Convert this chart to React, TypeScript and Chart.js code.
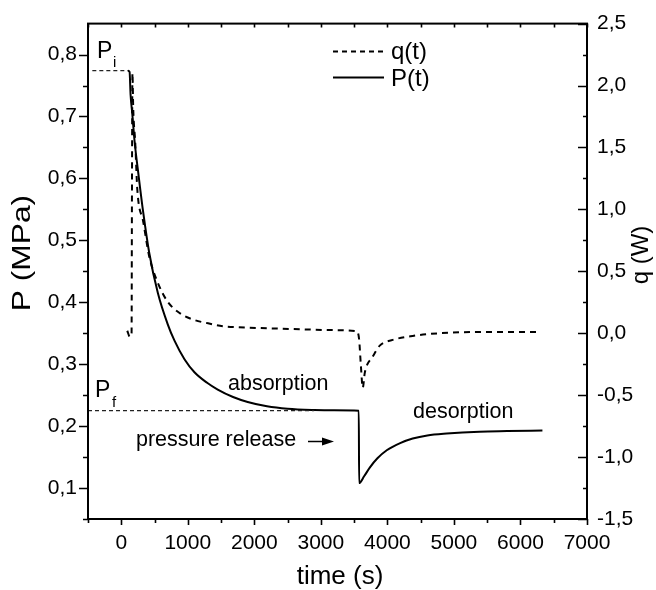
import React, { useEffect, useRef } from "react";
import { Chart, registerables } from "chart.js";

Chart.register(...registerables);

// ---- data ----
const timeP = [100, 125, 140, 165, 200, 260, 330, 420, 550, 700, 800, 950, 1100, 1290, 1450, 1680, 1900, 2190, 2500, 2900, 3200, 3570, 3575, 3650, 3735, 3850, 3990, 4200, 4380, 4600, 4890, 5385, 5800, 6330];
const pressure = [0.774, 0.772, 0.735, 0.705, 0.66, 0.605, 0.545, 0.48, 0.415, 0.364, 0.338, 0.308, 0.287, 0.27, 0.259, 0.247, 0.239, 0.232, 0.228, 0.226, 0.2255, 0.225, 0.108, 0.119, 0.133, 0.148, 0.161, 0.173, 0.18, 0.185, 0.188, 0.191, 0.192, 0.193];

const timeQ = [90, 130, 155, 160, 168, 180, 210, 240, 330, 420, 540, 690, 885, 1080, 1305, 1530, 1755, 2200, 2700, 3200, 3540, 3575, 3600, 3630, 3660, 3700, 3765, 3885, 4080, 4380, 4785, 5500, 6250];
const heat = [0.02, -0.03, 0.0, 1.0, 2.1, 1.81, 1.54, 1.17, 0.9, 0.62, 0.42, 0.26, 0.16, 0.11, 0.08, 0.056, 0.048, 0.04, 0.032, 0.025, 0.016, -0.05, -0.25, -0.44, -0.32, -0.25, -0.2, -0.1, -0.054, -0.022, 0.0, 0.01, 0.01];

const piLineT = [-435, 100];
const piLineP = [0.774, 0.774];
const pfLineT = [-500, 2900];
const pfLineP = [0.225, 0.225];

const xTicks = [0, 1000, 2000, 3000, 4000, 5000, 6000, 7000];
const pTicks = [0.1, 0.2, 0.3, 0.4, 0.5, 0.6, 0.7, 0.8];
const qTicks = [-1.5, -1.0, -0.5, 0.0, 0.5, 1.0, 1.5, 2.0, 2.5];

const FONT = "'Liberation Sans', Arial, Helvetica, sans-serif";

const zip = (xs: number[], ys: number[]) => xs.map((x, i) => ({ x, y: ys[i] }));
const fmt1 = (v: number) => v.toFixed(1).replace(".", ",");

const framePlugin = {
  id: "frame",
  afterDraw(chart: any) {
    const { ctx, chartArea } = chart;
    const { left, right, top, bottom } = chartArea;
    const sx = chart.scales.x;
    const sy = chart.scales.y;
    const sq = chart.scales.y1;
    ctx.save();
    ctx.strokeStyle = "#000";
    ctx.fillStyle = "#000";
    ctx.lineWidth = 2;
    ctx.strokeRect(left, top, right - left, bottom - top);

    ctx.lineWidth = 1.6;
    ctx.beginPath();
    for (let v = -500; v <= 7000; v += 500) {
      const px = Math.round(sx.getPixelForValue(v)) + 0.5;
      const major = xTicks.includes(v);
      ctx.moveTo(px, bottom);
      ctx.lineTo(px, bottom + (major ? 6 : 4));
      ctx.moveTo(px, top);
      ctx.lineTo(px, top + 4);
    }
    for (let i = 1; i <= 16; i++) {
      const v = 0.05 * i;
      const py = Math.round(sy.getPixelForValue(v)) + 0.5;
      const major = i % 2 === 0;
      ctx.moveTo(left, py);
      ctx.lineTo(left - (major ? 9 : 5), py);
    }
    for (let i = 0; i <= 16; i++) {
      const v = -1.5 + 0.25 * i;
      const py = Math.round(sq.getPixelForValue(v)) + 0.5;
      const major = i % 2 === 0;
      ctx.moveTo(right, py);
      ctx.lineTo(right - (major ? 9 : 4), py);
    }
    ctx.stroke();

    // axis titles
    ctx.font = `26px ${FONT}`;
    ctx.textAlign = "center";
    ctx.textBaseline = "middle";
    ctx.fillText("time (s)", 340, 577);
    ctx.save();
    ctx.translate(23, 253);
    ctx.rotate(-Math.PI / 2);
    ctx.scale(1.22, 1);
    ctx.fillText("P (MPa)", 0, 0);
    ctx.restore();
    ctx.save();
    ctx.font = `24px ${FONT}`;
    ctx.translate(641, 255);
    ctx.rotate(-Math.PI / 2);
    ctx.fillText("q (W)", 0, 0);
    ctx.restore();

    // legend
    ctx.lineWidth = 1.8;
    ctx.setLineDash([5, 4]);
    ctx.beginPath();
    ctx.moveTo(333, 51.5);
    ctx.lineTo(384, 51.5);
    ctx.stroke();
    ctx.setLineDash([]);
    ctx.lineWidth = 2;
    ctx.beginPath();
    ctx.moveTo(333, 77.5);
    ctx.lineTo(384, 77.5);
    ctx.stroke();
    ctx.font = `24px ${FONT}`;
    ctx.textAlign = "left";
    ctx.textBaseline = "alphabetic";
    ctx.fillText("q(t)", 391, 59);
    ctx.fillText("P(t)", 391, 86);

    // annotations
    ctx.font = `23px ${FONT}`;
    ctx.fillText("P", 97, 58);
    ctx.fillText("P", 95, 397);
    ctx.font = `15px ${FONT}`;
    ctx.fillText("i", 113, 67);
    ctx.fillText("f", 112, 407);
    ctx.font = `21.5px ${FONT}`;
    ctx.fillText("absorption", 228, 390);
    ctx.fillText("desorption", 413, 418);
    ctx.fillText("pressure release", 136, 446);
    ctx.lineWidth = 1.5;
    ctx.beginPath();
    ctx.moveTo(308, 441.5);
    ctx.lineTo(326, 441.5);
    ctx.stroke();
    ctx.beginPath();
    ctx.moveTo(334, 441.5);
    ctx.lineTo(322, 437.5);
    ctx.lineTo(322, 445.5);
    ctx.closePath();
    ctx.fill();
    ctx.restore();
  },
};

export default function App() {
  const ref = useRef<HTMLCanvasElement | null>(null);
  useEffect(() => {
    if (!ref.current) return;
    const chart = new Chart(ref.current, {
      type: "scatter",
      data: {
        datasets: [
          {
            label: "Pi",
            data: zip(piLineT, piLineP),
            yAxisID: "y",
            showLine: true,
            borderColor: "#222",
            borderWidth: 1.2,
            borderDash: [4, 3],
            pointRadius: 0,
          },
          {
            label: "Pf",
            data: zip(pfLineT, pfLineP),
            yAxisID: "y",
            showLine: true,
            borderColor: "#222",
            borderWidth: 1.2,
            borderDash: [4, 3],
            pointRadius: 0,
          },
          {
            label: "q(t)",
            data: zip(timeQ, heat),
            yAxisID: "y1",
            showLine: true,
            borderColor: "#000",
            borderWidth: 2,
            borderDash: [6, 5],
            pointRadius: 0,
            cubicInterpolationMode: "monotone",
          },
          {
            label: "P(t)",
            data: zip(timeP, pressure),
            yAxisID: "y",
            showLine: true,
            borderColor: "#000",
            borderWidth: 2,
            pointRadius: 0,
            cubicInterpolationMode: "monotone",
          },
        ],
      },
      options: {
        responsive: false,
        animation: false,
        layout: { padding: { top: 21, left: 0, right: 0, bottom: 0 } },
        plugins: { legend: { display: false }, tooltip: { enabled: false } },
        scales: {
          x: {
            type: "linear",
            position: "bottom",
            min: -500,
            max: 7000,
            afterFit: (s: any) => { s.height = 71; },
            afterBuildTicks: (s: any) => { s.ticks = xTicks.map((v) => ({ value: v })); },
            grid: { display: false, drawTicks: false },
            border: { display: false },
            ticks: { color: "#000", font: { family: FONT, size: 21 }, padding: 12, maxRotation: 0, callback: (v: any) => String(v) },
          },
          y: {
            type: "linear",
            position: "left",
            min: 0.05,
            max: 0.85,
            afterFit: (s: any) => { s.width = 88; },
            afterBuildTicks: (s: any) => { s.ticks = pTicks.map((v) => ({ value: v })); },
            grid: { display: false, drawTicks: false },
            border: { display: false },
            ticks: { color: "#000", font: { family: FONT, size: 21 }, padding: 11, callback: (v: any) => fmt1(Number(v)) },
          },
          y1: {
            type: "linear",
            position: "right",
            min: -1.5,
            max: 2.5,
            afterFit: (s: any) => { s.width = 69; },
            afterBuildTicks: (s: any) => { s.ticks = qTicks.map((v) => ({ value: v })); },
            grid: { display: false, drawTicks: false },
            border: { display: false },
            ticks: { color: "#000", font: { family: FONT, size: 21 }, padding: 10, callback: (v: any) => fmt1(Number(v)) },
          },
        },
      },
      plugins: [framePlugin],
    });
    return () => chart.destroy();
  }, []);
  return (
    <div style={{ position: "absolute", left: 0, top: 0, width: 656, height: 590, background: "#fff" }}>
      <canvas ref={ref} width={656} height={590} />
    </div>
  );
}
